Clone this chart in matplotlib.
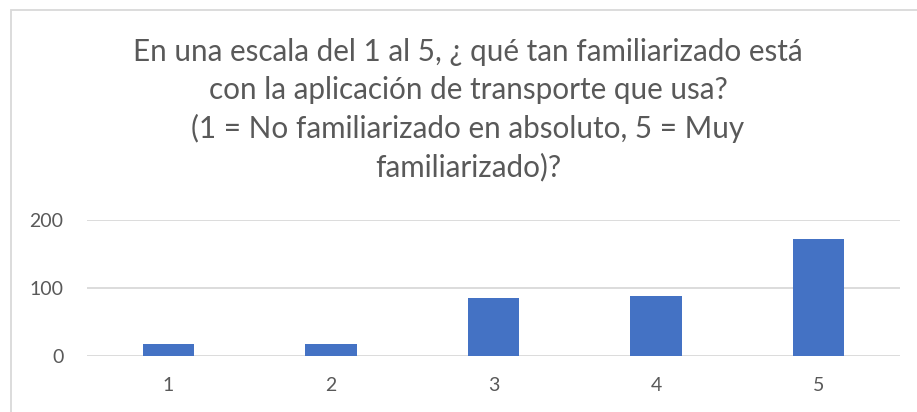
import matplotlib
matplotlib.use("Agg")
import matplotlib.pyplot as plt
from matplotlib.patches import Rectangle

categories = ["1", "2", "3", "4", "5"]
values = [18, 18, 86, 88, 172]
yticks = [0, 100, 200]
title_lines = [
    "En una escala del 1 al 5, ¿ qué tan familiarizado está",
    "con la aplicación de transporte que usa?",
    "(1 = No familiarizado en absoluto, 5 = Muy",
    "familiarizado)?",
]

plt.rcParams['font.family'] = ['Lato', 'DejaVu Sans']
W, H = 917, 412
fig = plt.figure(figsize=(W / 100, H / 100), dpi=100)
fig.patch.set_facecolor("white")

# outer chart border (extends off canvas on right/bottom)
fig.patches.append(Rectangle((11 / W, -0.1), 1.2, (H - 10) / H + 0.1,
                             transform=fig.transFigure, fill=False,
                             edgecolor="#d9d9d9", linewidth=1.3))

ax = fig.add_axes([87 / W, (H - 356) / H, (900 - 87) / W, (356 - 220) / H])
x = list(range(len(categories)))
ax.bar(x, values, width=0.315, color="#4472c4", zorder=3)
ax.set_xlim(-0.5, len(categories) - 0.5)
ax.set_ylim(0, 200)
ax.set_yticks(yticks)
ax.set_xticks(x)
ax.set_xticklabels(categories)
for s in ax.spines.values():
    s.set_visible(False)
ax.grid(axis="y", color="#d9d9d9", linewidth=1.3, zorder=0)
ax.tick_params(axis="both", length=0, colors="#595959", labelsize=14)
ax.tick_params(axis="x", pad=15)
ax.tick_params(axis="y", pad=17)

baselines = [60.7, 99.2, 137.7, 176.2]
for line, yb in zip(title_lines, baselines):
    fig.text(468 / W, 1 - yb / H, line, ha="center", va="baseline",
             fontsize=21.3, color="#595959")

fig.savefig("out.png", dpi=100)
